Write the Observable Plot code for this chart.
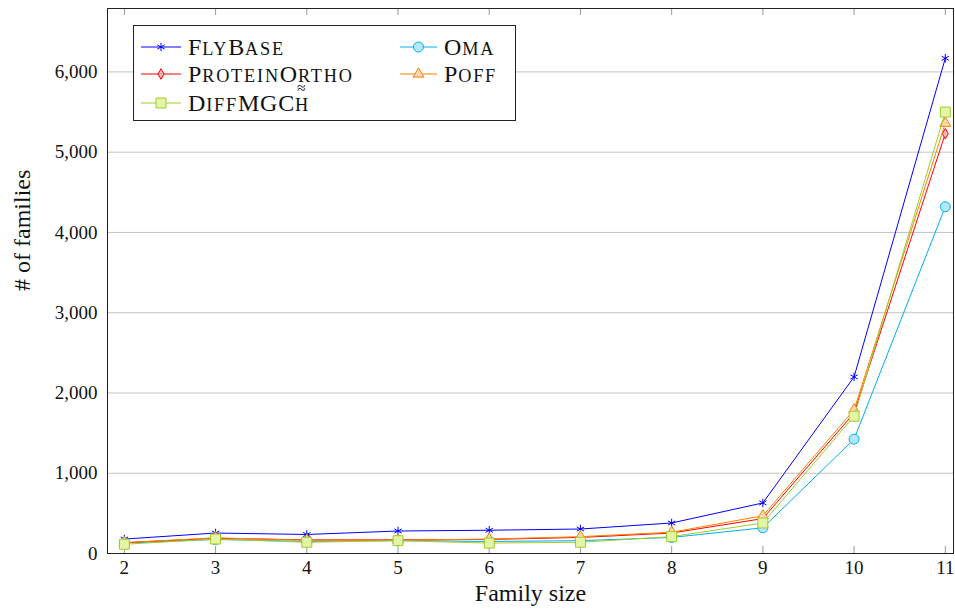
<!DOCTYPE html>
<html><head><meta charset="utf-8">
<script src="https://cdn.jsdelivr.net/npm/d3@7"></script>
<script src="https://cdn.jsdelivr.net/npm/@observablehq/plot@0.6"></script>
<style>
body{margin:0;background:#fff;}
#wrap{position:relative;width:955px;height:614px;font-family:"Liberation Serif","Times New Roman","DejaVu Serif",serif;}
#wrap svg, #wrap svg text{font-family:"Liberation Serif","Times New Roman","DejaVu Serif",serif !important;}
#legend{position:absolute;left:133px;top:25px;width:381px;height:94px;border:1px solid #222;background:#fff;}
.entry{position:absolute;height:28px;display:flex;align-items:center;font-size:24px;color:#111;white-space:nowrap;line-height:1;letter-spacing:0.8px;}
.entry svg{display:block;margin-right:7px;}
.sc{font-size:0.76em;letter-spacing:1.8px;}
.hat{position:relative;display:inline-block;}
.hat .tl{position:absolute;left:42%;top:-0.42em;transform:translateX(-50%);font-size:0.65em;line-height:0.5;letter-spacing:0;}
</style></head><body><div id="wrap"></div>
<script>
// ---- data ----
const sizes = [2, 3, 4, 5, 6, 7, 8, 9, 10, 11];
const flyBase      = [180, 255, 237, 280, 290, 305, 380, 630, 2200, 6170];
const oma          = [130, 175, 150, 160, 150, 160, 200, 320, 1425, 4320];
const proteinOrtho = [135, 190, 170, 170, 175, 200, 255, 435, 1750, 5230];
const poff         = [135, 195, 165, 165, 180, 210, 265, 470, 1790, 5360];
const diffMGC      = [115, 180, 140, 160, 130, 140, 210, 380, 1710, 5500];
const yTicks = [0, 1000, 2000, 3000, 4000, 5000, 6000];
const seriesNames = ["FlyBase", "Oma", "ProteinOrtho", "Poff", "DiffMGC"];

// ---- styles ----
const series = [
  {name: seriesNames[0], values: flyBase, stroke: "#0000ff", fill: "none", symbol: "asterisk", r: 4},
  {name: seriesNames[1], values: oma, stroke: "#00aeef", fill: "#b3e7fa", symbol: "circle", r: 5},
  {name: seriesNames[2], values: proteinOrtho, stroke: "#ff0000", fill: "#ffb3b3", symbol: "diamond", r: 3.2},
  {name: seriesNames[3], values: poff, stroke: "#ff8000", fill: "#ffd9b3", symbol: "triangle", r: 4},
  {name: seriesNames[4], values: diffMGC, stroke: "#a2cc2a", fill: "#e4f5a5", symbol: "square", r: 5.6}
];

const xDomain = [1.815, 11.09];
const yDomain = [0, 6790];
const FONT = '"Liberation Serif","Times New Roman","DejaVu Serif",serif';

const marks = [
  Plot.gridY(yTicks, {stroke: "#c4c4c4", strokeOpacity: 1, strokeWidth: 1}),
  Plot.ruleX(sizes, {x: d => d, y1: yDomain[0], y2: yDomain[0], insetTop: -7, stroke: "#9a9a9a"}),
  Plot.ruleX(sizes, {x: d => d, y1: yDomain[1], y2: yDomain[1], insetBottom: -7, stroke: "#9a9a9a"})
];
for (const s of series) {
  const rows = sizes.map((x, i) => ({x, y: s.values[i]}));
  marks.push(Plot.line(rows, {x: "x", y: "y", stroke: s.stroke, strokeWidth: 1}));
  marks.push(Plot.dot(rows, {x: "x", y: "y", symbol: () => s.symbol, r: s.r, stroke: s.stroke, fill: s.fill, strokeWidth: 1}));
}
marks.push(
  Plot.frame({stroke: "#222", strokeWidth: 1}),
  Plot.axisX(sizes, {tickSize: 0, tickPadding: 7, fontSize: 19, fontFamily: FONT, label: null, tickFormat: d => String(d)}),
  Plot.axisY(yTicks, {tickSize: 0, tickPadding: 10, fontSize: 19, fontFamily: FONT, label: null, tickFormat: d3.format(",")}),
  Plot.text(["Family size"], {text: d => d, frameAnchor: "bottom", dy: 47, fontSize: 24, fontFamily: FONT, fill: "#111"}),
  Plot.text(["# of families"], {text: d => d, frameAnchor: "left", dx: -85, dy: 10, rotate: -90, fontSize: 24, fontFamily: FONT, fill: "#111"})
);

const chart = Plot.plot({
  width: 955, height: 614,
  marginLeft: 107, marginRight: 2, marginTop: 8, marginBottom: 61,
  x: {domain: xDomain},
  y: {domain: yDomain},
  style: {fontFamily: FONT, background: "white", color: "#111", overflow: "visible"},
  marks
});
const wrap = document.getElementById("wrap");
wrap.appendChild(chart);

// ---- legend ----
function smallCaps(name) {
  return name.split("").map(c => c === c.toLowerCase() ? `<span class="sc">${c.toUpperCase()}</span>` : c).join("");
}
const legend = document.createElement("div");
legend.id = "legend";
const symMap = {asterisk: d3.symbolAsterisk, circle: d3.symbolCircle, diamond: d3.symbolDiamond, triangle: d3.symbolTriangle, square: d3.symbolSquare};
const positions = [[7, 7], [266, 7], [7, 34], [266, 34], [7, 63]];
series.forEach((s, i) => {
  const e = document.createElement("div");
  e.className = "entry";
  e.style.left = positions[i][0] + "px";
  e.style.top = positions[i][1] + "px";
  const size = Math.PI * s.r * s.r;
  const path = d3.symbol(symMap[s.symbol], size)();
  const w = i % 2 === 0 ? 40 : 37;
  let label = smallCaps(s.name);
  if (s.name === "DiffMGC") label += `<span class="hat"><span class="sc">H</span><span class="tl">≈</span></span>`;
  e.innerHTML = `<svg width="${w}" height="20"><line x1="0" x2="${w}" y1="10" y2="10" stroke="${s.stroke}" stroke-width="1"/><path d="${path}" transform="translate(${w/2},10)" fill="${s.fill}" stroke="${s.stroke}" stroke-width="1"/></svg><span>${label}</span>`;
  legend.appendChild(e);
});
wrap.appendChild(legend);
</script></body></html>
